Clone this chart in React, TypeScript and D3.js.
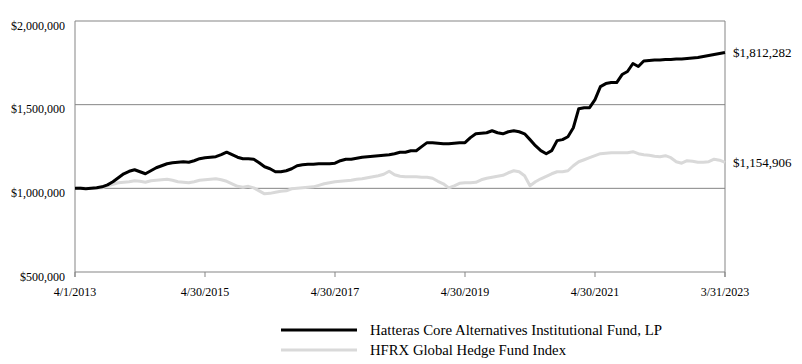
import React, { useEffect } from 'react';
import * as d3 from 'd3';

// monthly growth of $1,000,000, in thousands (4/1/2013 .. 3/31/2023)
const hatteras = [
  1000, 1000, 997, 1000, 1003, 1009, 1021, 1039, 1063, 1087,
  1102, 1111, 1099, 1087, 1105, 1123, 1135, 1147, 1153, 1156,
  1159, 1156, 1165, 1177, 1183, 1186, 1189, 1201, 1216, 1201,
  1186, 1177, 1177, 1174, 1153, 1129, 1117, 1099, 1099, 1105,
  1117, 1135, 1141, 1144, 1144, 1147, 1147, 1147, 1150, 1165,
  1174, 1174, 1180, 1186, 1189, 1192, 1195, 1198, 1201, 1207,
  1216, 1216, 1225, 1225, 1249, 1273, 1273, 1270, 1267, 1267,
  1270, 1273, 1273, 1303, 1326, 1329, 1332, 1344, 1332, 1326,
  1338, 1344, 1338, 1326, 1291, 1255, 1225, 1207, 1225, 1285,
  1291, 1308, 1362, 1476, 1482, 1482, 1530, 1608, 1626, 1632,
  1632, 1680, 1698, 1746, 1728, 1761, 1764, 1767, 1767, 1770,
  1770, 1773, 1773, 1776, 1779, 1782, 1788, 1794, 1800, 1806,
  1812.282,
];

const hfrx = [
  1000, 1003, 1000, 1000, 1000, 1003, 1015, 1024, 1033, 1036,
  1039, 1045, 1042, 1036, 1045, 1048, 1051, 1054, 1048, 1039,
  1036, 1033, 1039, 1048, 1051, 1054, 1057, 1051, 1042, 1027,
  1012, 1006, 1012, 1003, 985, 967, 970, 976, 982, 985,
  997, 1000, 1003, 1006, 1009, 1018, 1027, 1033, 1039, 1042,
  1045, 1048, 1054, 1057, 1063, 1069, 1075, 1084, 1102, 1081,
  1072, 1069, 1069, 1069, 1066, 1066, 1060, 1042, 1027, 1003,
  1015, 1030, 1033, 1033, 1036, 1051, 1060, 1066, 1072, 1078,
  1093, 1105, 1099, 1075, 1015, 1039, 1057, 1072, 1087, 1099,
  1099, 1105, 1135, 1159, 1171, 1183, 1195, 1207, 1210, 1213,
  1213, 1213, 1213, 1219, 1207, 1201, 1198, 1192, 1189, 1195,
  1183, 1159, 1150, 1165, 1162, 1156, 1156, 1159, 1174, 1168,
  1154.906,
];

const xTickIdx = [0, 24, 48, 72, 96, 120];
const xTickLabels = ['4/1/2013', '4/30/2015', '4/30/2017', '4/30/2019', '4/30/2021', '3/31/2023'];
const yTicks = [500000, 1000000, 1500000, 2000000];
const endLabels = ['$1,812,282', '$1,154,906'];
const seriesNames = ['Hatteras Core Alternatives Institutional Fund, LP', 'HFRX Global Hedge Fund Index'];
const seriesColors = ['#000000', '#d9d9d9'];
const legendWidths = [292, 196];

const W = 802;
const H = 364;
const left = 75, right = 725, top = 21, bottom = 272;
const font = '"Liberation Serif", "Times New Roman", serif';

export default function App() {
  useEffect(() => {
    document.body.style.margin = '0';
  }, []);

  const x = d3.scaleLinear().domain([0, hatteras.length - 1]).range([left, right]);
  const y = d3.scaleLinear().domain([500000, 2000000]).range([bottom, top]);
  const fmt = d3.format('$,');

  const line = d3.line<number>()
    .x((d, i) => x(i))
    .y(d => y(d * 1000));

  const series = [hatteras, hfrx];

  return (
    <svg width={W} height={H} style={{ display: 'block' }} fontFamily={font}>
      {/* grid + frame */}
      {yTicks.map(t => (
        <line key={t} x1={left} x2={right} y1={y(t)} y2={y(t)} stroke="#858585" strokeWidth={1} />
      ))}
      <line x1={left} x2={left} y1={top} y2={bottom + 5} stroke="#858585" />
      <line x1={right} x2={right} y1={top} y2={bottom + 5} stroke="#858585" />
      {xTickIdx.map(i => (
        <line key={i} x1={x(i)} x2={x(i)} y1={bottom} y2={bottom + 5} stroke="#858585" />
      ))}

      {/* y labels */}
      {yTicks.map(t => (
        <text key={t} x={65} y={y(t) + 8.5} textAnchor="end" fontSize={12} fill="#000">
          {fmt(t)}
        </text>
      ))}

      {/* x labels */}
      {xTickIdx.map((i, k) => (
        <text key={i} x={x(i)} y={bottom + 24} textAnchor="middle" fontSize={12} fill="#000">
          {xTickLabels[k]}
        </text>
      ))}

      {/* lines, index first so fund sits on top */}
      {[1, 0].map(s => (
        <path key={s} d={line(series[s]) ?? ''} fill="none" stroke={seriesColors[s]}
          strokeWidth={3} strokeLinejoin="round" />
      ))}

      {/* end values */}
      {series.map((s, k) => (
        <text key={k} x={733} y={y(s[s.length - 1] * 1000) + 5} fontSize={13} fill="#000">
          {endLabels[k]}
        </text>
      ))}

      {/* legend */}
      {seriesNames.map((n, k) => (
        <g key={n} transform={`translate(281, ${330 + k * 20})`}>
          <line x1={0} x2={76} y1={0} y2={0} stroke={seriesColors[k]} strokeWidth={3} />
          <text x={89} y={5} fontSize={14} fill="#000"
            textLength={legendWidths[k]} lengthAdjust="spacingAndGlyphs">{n}</text>
        </g>
      ))}
    </svg>
  );
}
